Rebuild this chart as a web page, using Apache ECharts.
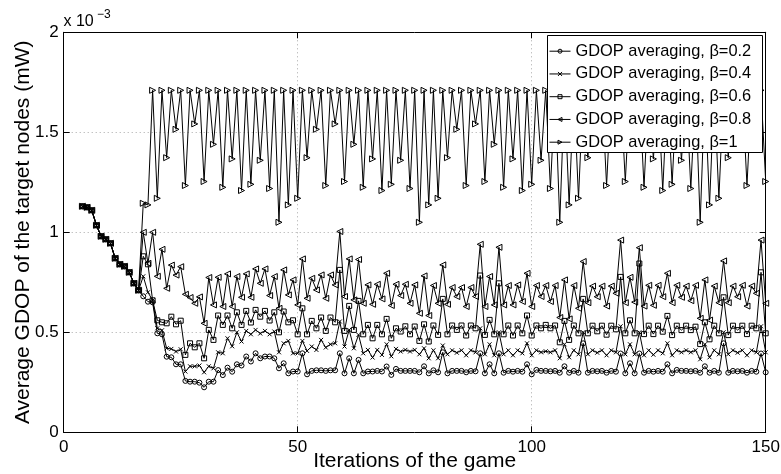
<!DOCTYPE html>
<html>
<head>
<meta charset="utf-8">
<title>GDOP averaging</title>
<script src="https://cdn.jsdelivr.net/npm/echarts@6/dist/echarts.min.js"></script>
<style>
  html, body { margin: 0; padding: 0; background: #fff; }
  #chart { width: 781px; height: 474px; }
</style>
</head>
<body>
<div id="chart"></div>
<script>
// Average GDOP (units of 1e-3 mW) per game iteration, five averaging weights.
const firstIteration = 4;

// iterations 4..16: identical for every beta
const sharedDescent = [1.13, 1.125, 1.11, 1.035, 0.98, 0.965, 0.945, 0.87, 0.84, 0.83, 0.80, 0.745, 0.71];

// iterations 17..150
const beta02 = [
  0.68, 0.653, 0.65, 0.495, 0.49, 0.378, 0.375, 0.34, 0.34, 0.257,
  0.253, 0.253, 0.248, 0.225, 0.253, 0.253, 0.311, 0.286, 0.323, 0.303,
  0.34, 0.334, 0.379, 0.354, 0.395, 0.37, 0.379, 0.379, 0.37, 0.32,
  0.345, 0.295, 0.304, 0.304, 0.395, 0.29, 0.307, 0.31, 0.31, 0.307,
  0.31, 0.31, 0.395, 0.295, 0.37, 0.295, 0.362, 0.295, 0.304, 0.304,
  0.307, 0.304, 0.329, 0.287, 0.317, 0.307, 0.307, 0.307, 0.307, 0.30,
  0.33, 0.295, 0.31, 0.30, 0.40, 0.295, 0.307, 0.307, 0.307, 0.30,
  0.307, 0.305, 0.395, 0.295, 0.34, 0.295, 0.395, 0.298, 0.307, 0.303,
  0.307, 0.303, 0.34, 0.29, 0.312, 0.307, 0.307, 0.305, 0.307, 0.298,
  0.33, 0.298, 0.307, 0.298, 0.445, 0.298, 0.307, 0.305, 0.307, 0.298,
  0.307, 0.303, 0.394, 0.295, 0.345, 0.295, 0.394, 0.298, 0.307, 0.303,
  0.307, 0.303, 0.34, 0.295, 0.312, 0.307, 0.307, 0.305, 0.307, 0.298,
  0.33, 0.298, 0.307, 0.298, 0.445, 0.298, 0.307, 0.305, 0.307, 0.298,
  0.307, 0.303, 0.394, 0.30
];

const beta04 = [
  0.78, 0.70, 0.66, 0.52, 0.51, 0.42, 0.417, 0.404, 0.415, 0.304,
  0.33, 0.33, 0.334, 0.30, 0.33, 0.32, 0.40, 0.395, 0.47, 0.43,
  0.50, 0.454, 0.507, 0.49, 0.512, 0.494, 0.507, 0.49, 0.504, 0.40,
  0.445, 0.457, 0.395, 0.395, 0.457, 0.407, 0.429, 0.412, 0.462, 0.424,
  0.44, 0.445, 0.554, 0.429, 0.512, 0.42, 0.487, 0.395, 0.412, 0.374,
  0.412, 0.387, 0.44, 0.38, 0.417, 0.404, 0.412, 0.404, 0.412, 0.39,
  0.42, 0.37, 0.41, 0.37, 0.434, 0.39, 0.41, 0.398, 0.41, 0.385,
  0.41, 0.40, 0.52, 0.39, 0.44, 0.385, 0.50, 0.39, 0.41, 0.385,
  0.41, 0.395, 0.445, 0.385, 0.41, 0.40, 0.405, 0.40, 0.41, 0.37,
  0.44, 0.375, 0.41, 0.39, 0.50, 0.39, 0.41, 0.398, 0.41, 0.385,
  0.41, 0.40, 0.53, 0.39, 0.44, 0.39, 0.50, 0.385, 0.41, 0.388,
  0.41, 0.395, 0.445, 0.385, 0.41, 0.40, 0.41, 0.40, 0.41, 0.365,
  0.44, 0.375, 0.41, 0.39, 0.50, 0.39, 0.41, 0.398, 0.41, 0.385,
  0.41, 0.40, 0.53, 0.40
];

const beta06 = [
  0.88, 0.84, 0.66, 0.56, 0.55, 0.545, 0.578, 0.54, 0.558, 0.387,
  0.445, 0.425, 0.445, 0.37, 0.512, 0.462, 0.584, 0.537, 0.584, 0.52,
  0.60, 0.537, 0.607, 0.549, 0.612, 0.578, 0.607, 0.559, 0.60, 0.50,
  0.604, 0.55, 0.56, 0.49, 0.62, 0.49, 0.557, 0.52, 0.574, 0.507,
  0.574, 0.55, 0.812, 0.507, 0.632, 0.512, 0.657, 0.49, 0.537, 0.47,
  0.537, 0.49, 0.567, 0.47, 0.52, 0.504, 0.53, 0.49, 0.529, 0.457,
  0.54, 0.454, 0.534, 0.487, 0.667, 0.49, 0.534, 0.512, 0.534, 0.484,
  0.534, 0.52, 0.784, 0.487, 0.562, 0.49, 0.745, 0.49, 0.534, 0.484,
  0.534, 0.495, 0.584, 0.484, 0.534, 0.52, 0.537, 0.52, 0.534, 0.45,
  0.557, 0.462, 0.534, 0.495, 0.667, 0.495, 0.533, 0.505, 0.533, 0.488,
  0.533, 0.515, 0.777, 0.495, 0.56, 0.495, 0.844, 0.491, 0.533, 0.491,
  0.533, 0.503, 0.582, 0.486, 0.533, 0.511, 0.533, 0.511, 0.528, 0.441,
  0.55, 0.465, 0.533, 0.495, 0.675, 0.486, 0.533, 0.511, 0.533, 0.491,
  0.533, 0.52, 0.80, 0.495
];

const beta08 = [
  1.0, 0.845, 1.0, 0.78, 0.915, 0.72, 0.836, 0.786, 0.828, 0.69,
  0.674, 0.645, 0.677, 0.545, 0.774, 0.637, 0.775, 0.629, 0.792, 0.629,
  0.779, 0.675, 0.792, 0.675, 0.817, 0.745, 0.817, 0.684, 0.779, 0.62,
  0.812, 0.687, 0.762, 0.637, 0.867, 0.67, 0.77, 0.712, 0.787, 0.67,
  0.787, 0.737, 1.004, 0.679, 0.867, 0.662, 0.864, 0.645, 0.737, 0.64,
  0.74, 0.667, 0.795, 0.634, 0.74, 0.684, 0.74, 0.645, 0.737, 0.595,
  0.782, 0.584, 0.734, 0.645, 0.837, 0.64, 0.724, 0.679, 0.724, 0.629,
  0.724, 0.679, 0.94, 0.629, 0.779, 0.637, 0.925, 0.637, 0.734, 0.637,
  0.737, 0.654, 0.795, 0.629, 0.734, 0.679, 0.734, 0.654, 0.734, 0.574,
  0.762, 0.567, 0.734, 0.62, 0.854, 0.648, 0.731, 0.678, 0.731, 0.631,
  0.731, 0.695, 0.961, 0.648, 0.775, 0.651, 0.923, 0.631, 0.735, 0.635,
  0.735, 0.678, 0.795, 0.648, 0.735, 0.675, 0.731, 0.658, 0.735, 0.57,
  0.762, 0.561, 0.731, 0.648, 0.857, 0.648, 0.731, 0.678, 0.735, 0.631,
  0.731, 0.695, 0.961, 0.645
];

const beta10 = [
  1.145, 1.137, 1.71, 1.17, 1.71, 1.373, 1.71, 1.515, 1.71, 1.234,
  1.71, 1.542, 1.71, 1.254, 1.71, 1.44, 1.71, 1.225, 1.71, 1.367,
  1.71, 1.209, 1.71, 1.24, 1.71, 1.36, 1.71, 1.219, 1.71, 1.05,
  1.71, 1.137, 1.71, 1.17, 1.71, 1.373, 1.71, 1.515, 1.71, 1.234,
  1.71, 1.542, 1.71, 1.254, 1.71, 1.44, 1.71, 1.225, 1.71, 1.367,
  1.71, 1.209, 1.71, 1.24, 1.71, 1.36, 1.71, 1.219, 1.71, 1.05,
  1.71, 1.137, 1.71, 1.17, 1.71, 1.373, 1.71, 1.515, 1.71, 1.234,
  1.71, 1.542, 1.71, 1.254, 1.71, 1.44, 1.71, 1.225, 1.71, 1.367,
  1.71, 1.209, 1.71, 1.24, 1.71, 1.36, 1.71, 1.219, 1.71, 1.05,
  1.71, 1.137, 1.71, 1.17, 1.71, 1.373, 1.71, 1.515, 1.71, 1.234,
  1.71, 1.542, 1.71, 1.254, 1.71, 1.44, 1.71, 1.225, 1.71, 1.367,
  1.71, 1.209, 1.71, 1.24, 1.71, 1.36, 1.71, 1.219, 1.71, 1.05,
  1.71, 1.137, 1.71, 1.17, 1.71, 1.373, 1.71, 1.515, 1.71, 1.234,
  1.71, 1.542, 1.71, 1.254
];

const seriesNames = [
  'GDOP averaging, \u03b2=0.2',
  'GDOP averaging, \u03b2=0.4',
  'GDOP averaging, \u03b2=0.6',
  'GDOP averaging, \u03b2=0.8',
  'GDOP averaging, \u03b2=1'
];
const xTicks = { min: 0, max: 150, step: 50 };
const yTicks = { min: 0, max: 2, step: 0.5 };
const xTitle = 'Iterations of the game';
const yTitle = 'Average GDOP of the target nodes (mW)';

const FONT = '"Liberation Sans", Arial, Helvetica, sans-serif';

// marker shapes
const MARK = {
  circle: 'circle',
  cross: 'path://M0,0L10,10M10,0L0,10',
  square: 'rect',
  triLeft: 'path://M0,5L10,0L10,10Z',
  triRight: 'path://M10,5L0,0L0,10Z'
};

function toPoints(tail) {
  return sharedDescent.concat(tail).map((v, k) => [firstIteration + k, v]);
}

function lineSeries(name, tail, symbol, size) {
  return {
    type: 'line',
    name: name,
    data: toPoints(tail),
    symbol: symbol,
    symbolSize: size,
    showAllSymbol: true,
    clip: true,
    z: 2,
    lineStyle: { color: '#000', width: 1 },
    itemStyle: { color: 'rgba(255,255,255,0)', borderColor: '#000', borderWidth: 1 },
    emphasis: { disabled: true }
  };
}

const boxAxis = {
  axisLine: { show: true, onZero: false, lineStyle: { color: '#000', width: 1 } },
  axisTick: { show: true, inside: true, length: 6, lineStyle: { color: '#000', width: 1 } }
};
const gridDots = { show: true, lineStyle: { color: '#a8a8a8', width: 1, type: [1, 3] } };

const chart = echarts.init(document.getElementById('chart'), null, { renderer: 'canvas' });
chart.setOption({
  animation: false,
  backgroundColor: '#fff',
  textStyle: { fontFamily: FONT },
  grid: { left: 63.7, top: 32.3, right: 15.3, bottom: 41.7, containLabel: false, outerBoundsMode: 'none' },
  xAxis: [
    Object.assign({
      type: 'value', position: 'bottom',
      min: xTicks.min, max: xTicks.max, interval: xTicks.step,
      name: xTitle, nameLocation: 'middle', nameGap: 18, nameMoveOverlap: false,
      nameTextStyle: { fontSize: 21, color: '#000', fontFamily: FONT },
      axisLabel: { fontSize: 17, color: '#000', margin: 7, fontFamily: FONT },
      splitLine: gridDots
    }, boxAxis),
    Object.assign({
      type: 'value', position: 'top',
      min: xTicks.min, max: xTicks.max, interval: xTicks.step,
      axisLabel: { show: false }, splitLine: { show: false }
    }, boxAxis)
  ],
  yAxis: [
    Object.assign({
      type: 'value', position: 'left',
      min: yTicks.min, max: yTicks.max, interval: yTicks.step,
      name: yTitle, nameLocation: 'middle', nameGap: 30, nameMoveOverlap: false,
      nameTextStyle: { fontSize: 21, color: '#000', fontFamily: FONT },
      axisLabel: { fontSize: 17, color: '#000', margin: 5, fontFamily: FONT,
        formatter: v => String(v) },
      splitLine: gridDots
    }, boxAxis),
    Object.assign({
      type: 'value', position: 'right',
      min: yTicks.min, max: yTicks.max, interval: yTicks.step,
      axisLabel: { show: false }, splitLine: { show: false }
    }, boxAxis)
  ],
  legend: {
    orient: 'vertical',
    left: 545, top: 35.7,
    z: 6,
    padding: [6.5, 4, 1.5, 4],
    itemGap: 4.75, itemWidth: 21, itemHeight: 5,
    itemStyle: { color: 'rgba(255,255,255,0)', borderColor: '#000', borderWidth: 1 },
    lineStyle: { color: '#000', width: 1 },
    textStyle: { fontSize: 16.4, color: '#000', fontFamily: FONT, lineHeight: 18 },
    data: seriesNames
  },
  graphic: [
    // legend frame
    { type: 'rect', z: 5, silent: true,
      shape: { x: 547.5, y: 35.5, width: 215, height: 117 },
      style: { fill: '#fff', stroke: '#000', lineWidth: 1 } },
    // exponent of the value axis
    { type: 'text', left: 63.5, top: 14, style: { text: 'x 10', font: '16px ' + FONT, fill: '#000' } },
    { type: 'text', left: 97, top: 9, style: { text: '\u22123', font: '12px ' + FONT, fill: '#000' } }
  ],
  series: [
    lineSeries(seriesNames[0], beta02, MARK.circle, 5),
    lineSeries(seriesNames[1], beta04, MARK.cross, 4),
    lineSeries(seriesNames[2], beta06, MARK.square, 5),
    lineSeries(seriesNames[3], beta08, MARK.triLeft, 6),
    lineSeries(seriesNames[4], beta10, MARK.triRight, 6)
  ]
});
</script>
</body>
</html>
